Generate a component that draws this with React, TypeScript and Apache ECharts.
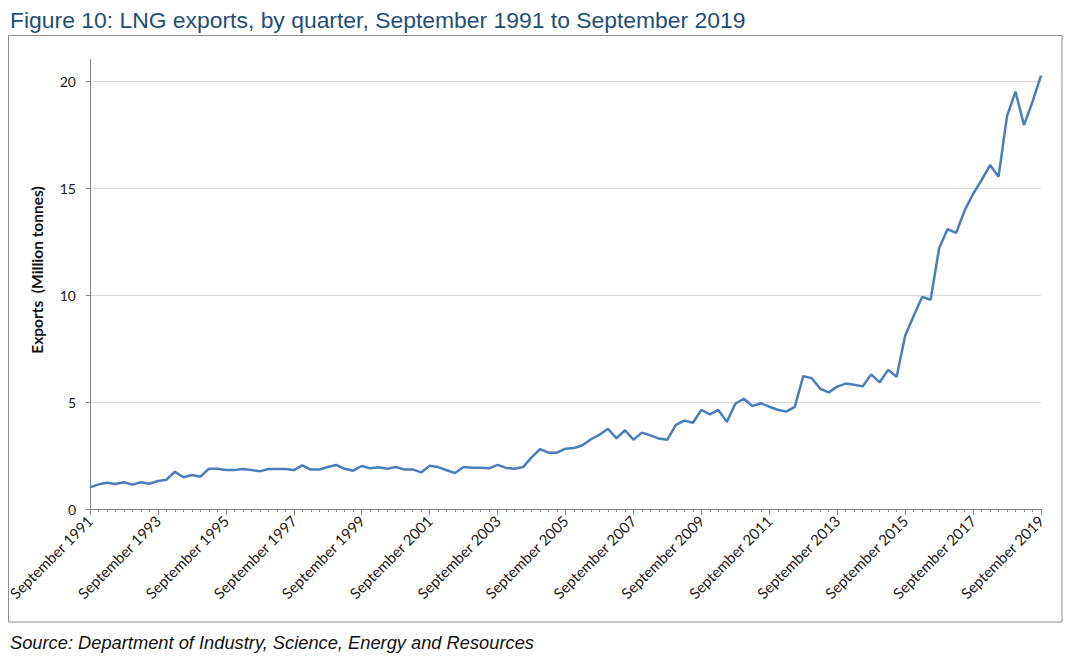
import React, { useEffect, useRef } from "react";
import * as echarts from "echarts";

const QUARTER_MONTHS = ["September", "December", "March", "June"];
const FIRST_YEAR = 1991;
const N_QUARTERS = 113;

const categories: string[] = [];
for (let i = 0; i < N_QUARTERS; i++) {
  categories.push(`${QUARTER_MONTHS[i % 4]} ${FIRST_YEAR + Math.floor((i + 2) / 4)}`);
}

const exports_mt = [
  1.01, 1.15, 1.23, 1.17, 1.25, 1.14, 1.25, 1.18, 1.31, 1.37,
  1.74, 1.48, 1.59, 1.51, 1.88, 1.88, 1.82, 1.82, 1.87, 1.82,
  1.76, 1.87, 1.87, 1.87, 1.82, 2.04, 1.84, 1.84, 1.96, 2.06,
  1.88, 1.79, 2.01, 1.9, 1.95, 1.88, 1.96, 1.85, 1.85, 1.71,
  2.02, 1.96, 1.81, 1.68, 1.96, 1.93, 1.93, 1.9, 2.06, 1.92,
  1.88, 1.96, 2.41, 2.8, 2.63, 2.63, 2.82, 2.85, 2.98, 3.26,
  3.47, 3.75, 3.3, 3.68, 3.24, 3.57, 3.44, 3.29, 3.24, 3.93,
  4.13, 4.03, 4.63, 4.42, 4.63, 4.07, 4.92, 5.15, 4.81, 4.94,
  4.78, 4.64, 4.55, 4.77, 6.21, 6.11, 5.62, 5.45, 5.72, 5.86,
  5.81, 5.73, 6.29, 5.92, 6.5, 6.18, 8.1, 9.02, 9.91, 9.78,
  12.18, 13.08, 12.9, 13.94, 14.72, 15.37, 16.07, 15.53, 18.36, 19.5,
  17.94, 19.03, 20.25,
];

const yTicks = [0, 5, 10, 15, 20];
const Y_MAX = 21;

const TITLE = "Figure 10: LNG exports, by quarter, September 1991 to September 2019";
const SOURCE = "Source: Department of Industry, Science, Energy and Resources";
const Y_NAME = "Exports  (Million tonnes)";

export default function App() {
  const ref = useRef<HTMLDivElement>(null);
  useEffect(() => {
    if (!ref.current) return;
    const chart = echarts.init(ref.current, null, { renderer: "svg" });
    const labelFont = "Lato";
    chart.setOption({
      animation: false,
      backgroundColor: "#ffffff",
      grid: { left: 90, right: 37, top: 59.6, bottom: 154, containLabel: false },
      xAxis: [
        {
          type: "category",
          data: categories,
          boundaryGap: false,
          position: "bottom",
          axisLine: { show: true, lineStyle: { color: "#868686", width: 1 } },
          axisTick: { show: true, interval: 0, length: 3, lineStyle: { color: "#868686" } },
          axisLabel: {
            interval: 7,
            rotate: 45,
            fontFamily: labelFont,
            fontSize: 15,
            color: "#1a1a1a",
            margin: 9,
          },
          splitLine: { show: false },
        },
        {
          type: "category",
          data: categories,
          boundaryGap: false,
          position: "bottom",
          axisLine: { show: false },
          axisTick: { show: true, interval: 7, length: 6, lineStyle: { color: "#868686" } },
          axisLabel: { show: false },
          splitLine: { show: false },
        },
      ],
      yAxis: {
        type: "value",
        min: 0,
        max: Y_MAX,
        interval: 5,
        axisLine: { show: true, lineStyle: { color: "#868686", width: 1 } },
        axisTick: { show: true, length: 4, customValues: yTicks, lineStyle: { color: "#868686" } },
        axisLabel: {
          customValues: yTicks,
          fontFamily: labelFont,
          fontSize: 14,
          color: "#1a1a1a",
          margin: 14,
        },
        splitLine: { show: true, lineStyle: { color: "#d9d9d9", width: 1 } },
      },
      series: [
        {
          type: "line",
          data: exports_mt,
          xAxisIndex: 0,
          symbol: "none",
          lineStyle: { color: "#4a7ebb", width: 2.5 },
          z: 3,
        },
      ],
      graphic: [
        {
          type: "rect",
          silent: true,
          z: -10,
          shape: { x: 8.5, y: 35.5, width: 1053.5, height: 586.5 },
          style: { fill: "none", stroke: "#8c8c8c", lineWidth: 1 },
        },
        {
          type: "text",
          silent: true,
          x: 10,
          y: 19.5,
          style: {
            text: TITLE,
            font: "22.9px 'Liberation Sans', Arial, sans-serif",
            fill: "#1f4e79",
            align: "left",
            verticalAlign: "middle",
          },
        },
        {
          type: "text",
          silent: true,
          x: 10,
          y: 642,
          style: {
            text: SOURCE,
            font: "italic 18.3px 'Liberation Sans', Arial, sans-serif",
            fill: "#111111",
            align: "left",
            verticalAlign: "middle",
          },
        },
        {
          type: "text",
          silent: true,
          x: 37,
          y: 270,
          rotation: Math.PI / 2,
          style: {
            text: Y_NAME,
            font: "bold 15.5px Lato",
            fill: "#111111",
            align: "center",
            verticalAlign: "middle",
          },
        },
      ],
    });
    return () => chart.dispose();
  }, []);
  return (
    <div
      ref={ref}
      style={{ position: "absolute", left: 0, top: 0, width: 1078, height: 663, background: "#fff" }}
    />
  );
}
